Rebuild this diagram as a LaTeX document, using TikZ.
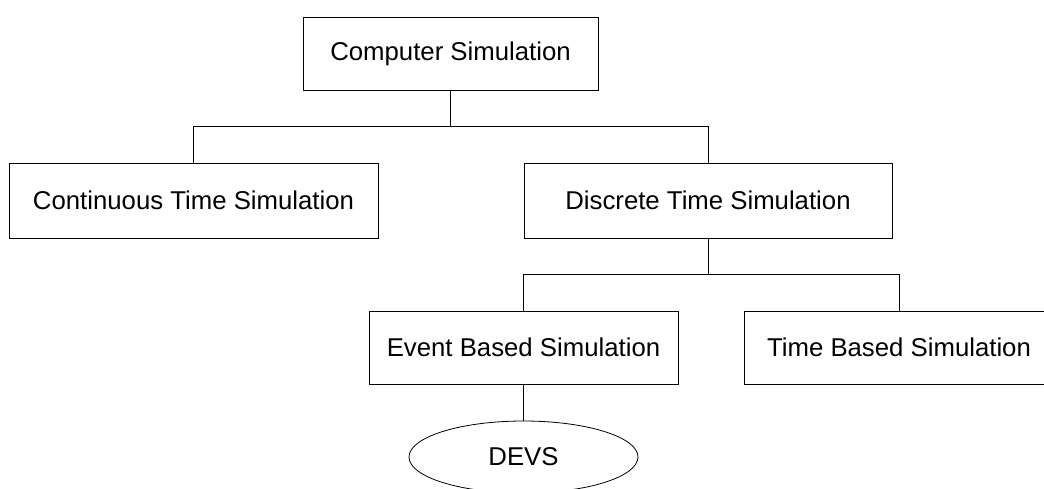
\documentclass[tikz,border=0pt]{standalone}
\usepackage{fontspec}
\setmainfont{Liberation Sans}
\usetikzlibrary{shapes,calc}

\begin{document}
\begin{tikzpicture}[x=1pt,y=-1pt,line width=0.8pt]
\tikzstyle{box}=[draw,rectangle,inner sep=0pt,minimum height=73pt,font=\fontsize{25.75pt}{30pt}\selectfont]
\tikzstyle{oval}=[draw,ellipse,inner sep=0pt,minimum width=229pt,minimum height=72pt,font=\fontsize{25.75pt}{30pt}\selectfont]
\useasboundingbox (0,0) rectangle (1044,489);
\begin{scope}
    \node [box,minimum width=295pt] (comp) at (450.5,53.5) {Computer Simulation};
    \node [box,minimum width=369pt,minimum height=75pt] (cont) at (193.5,200.5) {Continuous Time Simulation};
    \node [box,minimum width=368pt,minimum height=75pt] (disc) at (708,200.5) {Discrete Time Simulation};
    \node [box,minimum width=309pt] (event) at (523.5,347.5) {Event Based Simulation};
    \node [box,minimum width=310pt] (time) at (899,347.5) {Time Based Simulation};
    \node [oval] (devs) at (523.5,457) {DEVS};
    \coordinate (splitA) at ($(comp.south)!0.5!(comp.south|-cont.north)$);
    \coordinate (splitB) at ($(disc.south)!0.5!(disc.south|-event.north)$);
    \draw (comp.south) -- (splitA) -| (cont.north);
    \draw (splitA) -| (disc.north);
    \draw (disc.south) -- (splitB) -| (event.north);
    \draw (splitB) -| (time.north);
    \draw (event.south) -- (devs.north);
\end{scope}
\end{tikzpicture}
\end{document}
